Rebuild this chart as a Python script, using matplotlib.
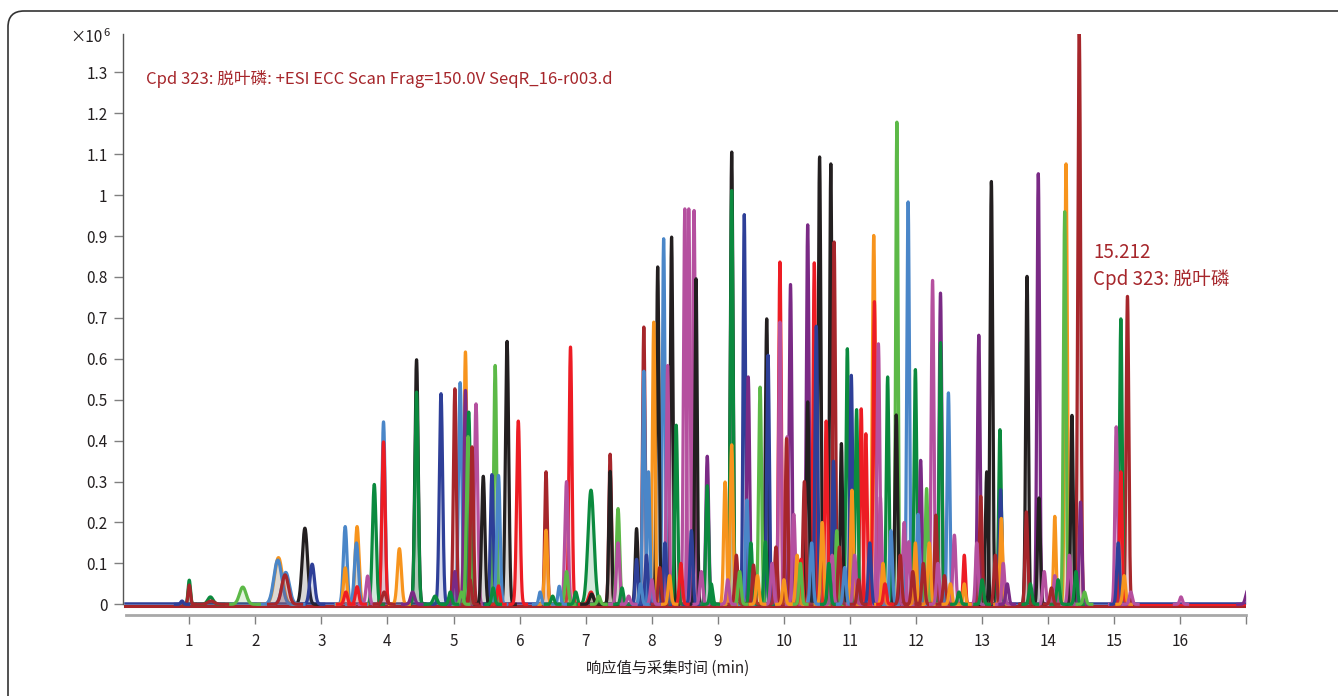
"overlaid EIC chromatogram, cpd 323 highlighted"
import numpy as np
import matplotlib
matplotlib.use("Agg")
from matplotlib import pyplot as plt
from matplotlib.patches import FancyBboxPatch
from matplotlib.transforms import IdentityTransform

plt.rcParams['font.family'] = ['Liberation Sans Narrow', 'Noto Sans CJK SC', 'DejaVu Sans']

COLORS = {
    'dkblue': '#2e3f98', 'red': '#ed1c24', 'dkgreen': '#0b8a3e',
    'black': '#231f20', 'orange': '#f7941d', 'ltblue': '#4a86c8',
    'magenta': '#b5509f', 'purple': '#7a2a85', 'dkred': '#a6262b',
    'ltgreen': '#5cb947',
}

# main peaks: retention time (min), height (x1e6), sigma (min), trace colour
peak_rt = [0.89, 1.00, 1.00, 1.32, 1.33, 1.81, 2.35, 2.34, 2.46, 2.45,
           2.75, 2.86, 3.36, 3.36, 3.37, 3.54, 3.53, 3.54, 3.70, 3.80,
           3.94, 3.94, 3.95, 4.18, 4.38, 4.44, 4.44, 4.72, 4.81, 5.02,
           5.02, 5.10, 5.18, 5.18, 5.23, 5.22, 5.28, 5.34, 5.45, 5.58,
           5.63, 5.68, 5.68, 5.81, 5.98, 6.31, 6.40, 6.40, 6.60, 6.71,
           6.71, 6.77, 7.08, 7.08, 7.09, 7.37, 7.37, 7.49, 7.49, 7.77,
           7.77, 7.88, 7.88, 7.95, 8.03, 8.09, 8.18, 8.24, 8.30, 8.37,
           8.50, 8.56, 8.64, 8.67, 8.84, 8.84, 9.11, 9.21, 9.21, 9.21,
           9.40, 9.44, 9.46, 9.54, 9.64, 9.72, 9.74, 9.76, 9.94, 9.94,
           10.04, 10.05, 10.10, 10.25, 10.26, 10.36, 10.36, 10.46, 10.49, 10.54,
           10.64, 10.71, 10.73, 10.75, 10.76, 10.80, 10.87, 10.96, 11.02, 11.03,
           11.10, 11.17, 11.24, 11.36, 11.37, 11.43, 11.46, 11.57, 11.70, 11.71,
           11.88, 11.89, 11.99, 11.99, 12.07, 12.16, 12.25, 12.30, 12.37, 12.37,
           12.49, 12.58, 12.73, 12.73, 12.92, 12.95, 12.98, 13.07, 13.14, 13.27,
           13.28, 13.29, 13.32, 13.67, 13.68, 13.85, 13.86, 14.10, 14.10, 14.25,
           14.27, 14.36, 14.47, 14.49, 15.03, 15.10, 15.10, 15.20, 16.01, 17.02]
peak_height = [0.008, 0.059, 0.047, 0.018, 0.008, 0.042, 0.114, 0.108, 0.078, 0.072,
               0.186, 0.098, 0.190, 0.089, 0.030, 0.190, 0.150, 0.043, 0.069, 0.293,
               0.446, 0.397, 0.030, 0.136, 0.030, 0.598, 0.519, 0.020, 0.515, 0.527,
               0.080, 0.542, 0.617, 0.523, 0.470, 0.410, 0.385, 0.490, 0.313, 0.317,
               0.584, 0.315, 0.045, 0.643, 0.448, 0.030, 0.324, 0.181, 0.044, 0.300,
               0.080, 0.629, 0.279, 0.030, 0.025, 0.367, 0.325, 0.234, 0.150, 0.185,
               0.110, 0.678, 0.570, 0.324, 0.690, 0.825, 0.894, 0.584, 0.898, 0.438,
               0.967, 0.967, 0.963, 0.796, 0.362, 0.290, 0.299, 1.106, 1.012, 0.390,
               0.953, 0.255, 0.556, 0.096, 0.531, 0.153, 0.698, 0.609, 0.837, 0.690,
               0.405, 0.410, 0.782, 0.100, 0.110, 0.928, 0.495, 0.835, 0.680, 1.094,
               0.448, 1.077, 0.120, 0.350, 0.886, 0.180, 0.393, 0.625, 0.560, 0.279,
               0.476, 0.478, 0.417, 0.902, 0.740, 0.637, 0.262, 0.556, 0.463, 1.179,
               0.984, 0.153, 0.574, 0.150, 0.352, 0.283, 0.792, 0.218, 0.761, 0.640,
               0.517, 0.169, 0.120, 0.050, 0.150, 0.658, 0.264, 0.324, 1.034, 0.427,
               0.280, 0.210, 0.100, 0.226, 0.802, 1.053, 0.260, 0.215, 0.070, 0.960,
               1.077, 0.462, 1.400, 0.250, 0.434, 0.698, 0.324, 0.753, 0.018, 0.034]
peak_sigma = [0.020, 0.018, 0.018, 0.040, 0.050, 0.050, 0.060, 0.060, 0.055, 0.050,
              0.040, 0.035, 0.028, 0.025, 0.025, 0.030, 0.030, 0.025, 0.025, 0.028,
              0.025, 0.025, 0.030, 0.030, 0.030, 0.025, 0.025, 0.030, 0.025, 0.022,
              0.020, 0.025, 0.022, 0.022, 0.025, 0.025, 0.022, 0.025, 0.025, 0.022,
              0.022, 0.025, 0.020, 0.025, 0.025, 0.020, 0.020, 0.022, 0.020, 0.025,
              0.025, 0.022, 0.045, 0.035, 0.030, 0.020, 0.020, 0.025, 0.025, 0.020,
              0.020, 0.020, 0.020, 0.020, 0.020, 0.020, 0.020, 0.020, 0.020, 0.022,
              0.020, 0.020, 0.020, 0.018, 0.022, 0.022, 0.022, 0.020, 0.020, 0.022,
              0.018, 0.022, 0.022, 0.020, 0.022, 0.022, 0.020, 0.020, 0.020, 0.020,
              0.020, 0.022, 0.020, 0.020, 0.020, 0.020, 0.020, 0.020, 0.020, 0.020,
              0.020, 0.018, 0.020, 0.020, 0.020, 0.020, 0.018, 0.020, 0.020, 0.020,
              0.020, 0.020, 0.020, 0.022, 0.020, 0.022, 0.020, 0.020, 0.020, 0.018,
              0.020, 0.020, 0.020, 0.020, 0.020, 0.020, 0.020, 0.020, 0.020, 0.020,
              0.020, 0.022, 0.018, 0.018, 0.020, 0.020, 0.020, 0.020, 0.020, 0.020,
              0.020, 0.020, 0.020, 0.020, 0.020, 0.020, 0.020, 0.018, 0.020, 0.020,
              0.020, 0.018, 0.022, 0.020, 0.020, 0.020, 0.020, 0.020, 0.020, 0.030]
peak_color = ['dkblue', 'dkgreen', 'dkred', 'dkgreen', 'dkred', 'ltgreen', 'orange', 'ltblue', 'ltblue', 'dkred',
              'black', 'dkblue', 'ltblue', 'orange', 'red', 'orange', 'ltblue', 'red', 'magenta', 'dkgreen',
              'ltblue', 'red', 'dkred', 'orange', 'purple', 'black', 'dkgreen', 'dkgreen', 'dkblue', 'dkred',
              'purple', 'ltblue', 'orange', 'purple', 'dkgreen', 'ltgreen', 'dkred', 'magenta', 'black', 'dkblue',
              'ltgreen', 'ltblue', 'red', 'black', 'red', 'ltblue', 'dkred', 'orange', 'ltblue', 'magenta',
              'ltgreen', 'red', 'dkgreen', 'red', 'black', 'dkred', 'black', 'ltgreen', 'magenta', 'black',
              'dkblue', 'dkred', 'ltblue', 'ltblue', 'orange', 'black', 'ltblue', 'magenta', 'black', 'dkgreen',
              'magenta', 'magenta', 'magenta', 'black', 'purple', 'dkgreen', 'orange', 'black', 'dkgreen', 'orange',
              'dkblue', 'ltblue', 'purple', 'dkred', 'ltgreen', 'dkgreen', 'black', 'dkblue', 'red', 'magenta',
              'dkred', 'magenta', 'purple', 'ltgreen', 'red', 'purple', 'black', 'red', 'dkblue', 'black',
              'red', 'black', 'magenta', 'dkblue', 'dkred', 'ltgreen', 'black', 'dkgreen', 'dkblue', 'orange',
              'dkgreen', 'red', 'red', 'orange', 'red', 'magenta', 'magenta', 'dkgreen', 'black', 'ltgreen',
              'ltblue', 'magenta', 'dkgreen', 'orange', 'purple', 'ltgreen', 'magenta', 'dkred', 'purple', 'dkgreen',
              'ltblue', 'magenta', 'red', 'orange', 'magenta', 'purple', 'dkred', 'black', 'black', 'dkgreen',
              'dkblue', 'orange', 'magenta', 'dkred', 'black', 'purple', 'black', 'orange', 'magenta', 'ltgreen',
              'orange', 'black', 'dkred', 'purple', 'magenta', 'dkgreen', 'red', 'dkred', 'magenta', 'purple']

# small peaks forming the carpet under the crowded region
minor_rt = [4.95, 5.12, 5.25, 5.60, 6.50, 6.85, 7.20, 7.55, 7.65, 7.83,
            7.92, 8.00, 8.12, 8.20, 8.27, 8.44, 8.60, 8.75, 8.90, 9.15,
            9.28, 9.33, 9.50, 9.60, 9.82, 9.88, 10.00, 10.15, 10.20, 10.31,
            10.42, 10.58, 10.68, 10.84, 10.92, 11.07, 11.13, 11.30, 11.50, 11.53,
            11.62, 11.76, 11.82, 11.95, 12.03, 12.11, 12.20, 12.33, 12.43, 12.52,
            12.65, 13.00, 13.20, 13.38, 13.73, 13.94, 14.05, 14.15, 14.32, 14.42,
            14.55, 15.06, 15.15, 15.25]
minor_height = [0.03, 0.03, 0.06, 0.04, 0.02, 0.03, 0.02, 0.04, 0.02, 0.05,
                0.12, 0.06, 0.09, 0.15, 0.07, 0.10, 0.18, 0.08, 0.05, 0.06,
                0.12, 0.08, 0.15, 0.07, 0.10, 0.14, 0.06, 0.22, 0.12, 0.30,
                0.15, 0.20, 0.10, 0.14, 0.09, 0.12, 0.06, 0.15, 0.10, 0.05,
                0.18, 0.12, 0.20, 0.08, 0.22, 0.10, 0.15, 0.10, 0.07, 0.05,
                0.03, 0.06, 0.12, 0.05, 0.05, 0.08, 0.04, 0.06, 0.12, 0.08,
                0.03, 0.15, 0.07, 0.03]
minor_color = ['dkgreen', 'ltgreen', 'dkred', 'dkgreen', 'dkgreen', 'dkgreen', 'ltgreen', 'dkgreen', 'magenta', 'ltblue',
               'dkblue', 'magenta', 'dkred', 'dkblue', 'orange', 'red', 'dkblue', 'magenta', 'dkgreen', 'magenta',
               'dkred', 'ltgreen', 'dkgreen', 'orange', 'magenta', 'dkred', 'orange', 'magenta', 'orange', 'dkred',
               'ltblue', 'orange', 'dkgreen', 'dkred', 'ltblue', 'magenta', 'dkred', 'dkblue', 'orange', 'red',
               'ltblue', 'dkred', 'magenta', 'dkred', 'ltblue', 'dkred', 'orange', 'magenta', 'dkred', 'orange',
               'dkgreen', 'dkgreen', 'dkred', 'purple', 'dkgreen', 'magenta', 'dkred', 'dkgreen', 'magenta', 'dkgreen',
               'ltgreen', 'dkblue', 'orange', 'magenta']
minor_sigma = 0.022

x_ticks = list(range(1, 17))
y_ticks = [0, 0.1, 0.2, 0.3, 0.4, 0.5, 0.6, 0.7, 0.8, 0.9, 1.0, 1.1, 1.2, 1.3]
y_labels = ['0', '0.1', '0.2', '0.3', '0.4', '0.5', '0.6', '0.7', '0.8', '0.9', '1', '1.1', '1.2', '1.3']

title = 'Cpd 323: 脱叶磷: +ESI ECC Scan Frag=150.0V SeqR_16-r003.d'
note_rt = '15.212'
note_cpd = 'Cpd 323: 脱叶磷'
xlabel = '响应值与采集时间 (min)'

W, H = 1338, 696
fig = plt.figure(figsize=(W / 100, H / 100), dpi=100)
ax = fig.add_axes([123.2 / W, 1 - 614.5 / H, 1123.2 / W, 580.5 / H])
ax.set_xlim(0, 17)
ax.set_ylim(-0.025, 1.394)

# baselines
ax.plot([0.02, 17], [0.003, 0.003], color=COLORS['dkblue'], lw=1.8, zorder=1)
ax.plot([0.02, 17], [-0.004, -0.004], color=COLORS['dkred'], lw=2.2, zorder=1)
ax.plot([15.3, 17], [-0.002, -0.002], color=COLORS['red'], lw=1.5, zorder=1)

rts = peak_rt + minor_rt
hts = peak_height + minor_height
sgs = peak_sigma + [minor_sigma] * len(minor_rt)
cls = peak_color + minor_color

order = np.argsort(hts)[::-1]
for k, i in enumerate(order):
    t, h, s = rts[i], hts[i], sgs[i]
    c = COLORS[cls[i]]
    xs = np.linspace(t - 5 * s, t + 5 * s, 160)
    ys = h * np.exp(-0.5 * ((xs - t) / s) ** 2)
    ax.fill_between(xs, 0, ys, color=c, alpha=0.18, lw=0, zorder=2 + k * 0.01)
    ax.plot(xs, ys, color=c, lw=2.3, zorder=2 + k * 0.01 + 0.005, solid_joinstyle='round')

for side in ['top', 'right']:
    ax.spines[side].set_visible(False)
ax.spines['left'].set_bounds(0, 1.394)
ax.spines['left'].set_color('#555555')
ax.spines['left'].set_linewidth(1.0)
ax.spines['bottom'].set_bounds(0.04, 17)
ax.spines['bottom'].set_color('#a8a8a8')
ax.spines['bottom'].set_linewidth(2.0)

ax.set_yticks(y_ticks)
ax.set_yticklabels(y_labels)
ax.set_xticks(x_ticks + [17])
ax.set_xticklabels([str(v) for v in x_ticks] + [''])
ax.tick_params(axis='y', length=6.3, width=1.0, color='#808080', pad=5, labelsize=11, labelcolor='#231f20')
ax.tick_params(axis='x', length=6.5, width=1.0, color='#808080', pad=7, labelsize=11, labelcolor='#231f20')

fig.text(102.5 / W, 1 - 38 / H, '×10', ha='right', va='center', fontsize=11, color='#231f20')
fig.text(103 / W, 1 - 33 / H, '6', ha='left', va='center', fontsize=8, color='#231f20')

red = '#a6262b'
fig.text(146 / W, 1 - 79 / H, title, ha='left', va='center', fontsize=12, color=red)
fig.text(1093 / W, 1 - 253 / H, note_rt, ha='left', va='center', fontsize=13.5, color=red)
fig.text(1093 / W, 1 - 279 / H, note_cpd, ha='left', va='center', fontsize=13.5, color=red)
fig.text(668 / W, 1 - 668 / H, xlabel, ha='center', va='center', fontsize=11, color='#231f20')

frame = FancyBboxPatch((8, -60), 1420, H - 11 + 60, boxstyle='round,pad=0,rounding_size=16',
                       transform=IdentityTransform(), fill=False, ec='#333333', lw=1.2)
fig.patches.append(frame)

fig.savefig('out.png', dpi=100)
